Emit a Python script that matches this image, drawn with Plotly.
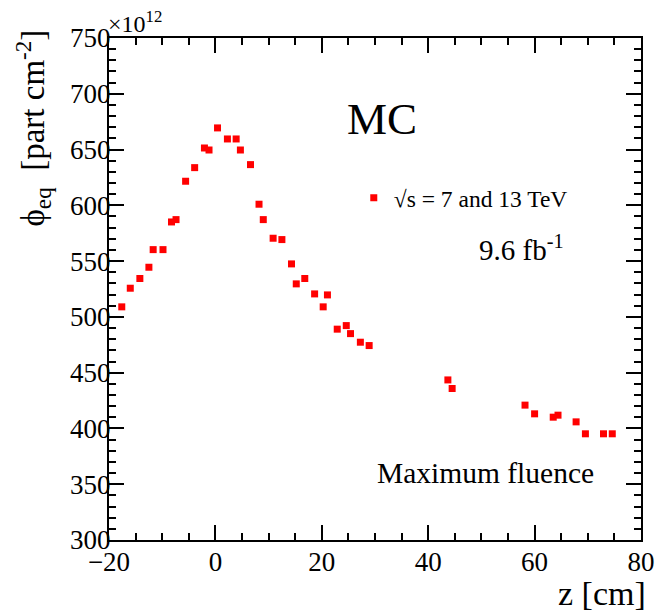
import plotly.graph_objects as go

# z position [cm]
z_cm = [-17.6, -16.0, -14.2, -12.5, -11.7, -9.85, -8.25, -7.4, -5.6, -3.9,
        -2.06, -1.2, 0.4, 2.26, 3.9, 4.7, 6.6, 8.2, 9.0, 10.85,
        12.5, 14.3, 15.2, 16.8, 18.65, 20.26, 21.06, 22.9, 24.6, 25.4,
        27.25, 28.9, 43.7, 44.5, 58.2, 60.0, 63.5, 64.4, 67.8, 69.55,
        72.95, 74.6]
# phi_eq [x 1e12 part cm^-2]
phi_eq = [509, 525.7, 534.4, 544.5, 560.3, 560.3, 585.1, 587.2, 621.6, 633.8,
          651.4, 649.6, 669.4, 659.5, 659.5, 649.6, 636.5, 601, 587.2, 570.5,
          569.3, 547.5, 529.6, 534.4, 520.6, 509, 519.7, 489, 492.2, 485,
          477.3, 474.3, 443.5, 435.8, 420.9, 413.1, 410.1, 411.9, 405.9, 395.2,
          395.2, 395.2]

series_name = "√s = 7 and 13 TeV"

FONT = "Liberation Serif"

fig = go.Figure()
fig.add_trace(go.Scatter(
    x=z_cm, y=phi_eq, mode="markers", name=series_name,
    marker=dict(symbol="square", size=7, color="#ff0000", line=dict(width=0)),
))

# page body has an 8px margin: draw the figure 8px smaller and offset
OFF = 8
W, H = 667 - OFF, 612 - OFF
L, T = 109 - OFF, 38 - OFF
R = W - (648 - OFF)
B = H - (540 - OFF)
pw, ph = W - L - R, H - T - B

def px(x):
    return (x - OFF - L) / pw

def py(y):
    return (H - B - (y - OFF)) / ph

axis_common = dict(
    showgrid=False, zeroline=False, showline=True, linecolor="black", linewidth=2,
    mirror="ticks", ticks="inside", tickcolor="black", tickwidth=2, ticklen=15,
    tickfont=dict(family=FONT, size=27, color="black"),
)

fig.update_xaxes(range=[-20, 80], dtick=20, tick0=-20, ticklabelstandoff=-3,
                 minor=dict(ticks="inside", dtick=5, ticklen=7, tickwidth=2, tickcolor="black"),
                 **axis_common)
fig.update_yaxes(range=[300, 750], dtick=50, tick0=300, ticklabelstandoff=-9,
                 minor=dict(ticks="inside", dtick=10, ticklen=7, tickwidth=2, tickcolor="black"),
                 **axis_common)

annotations = [
    dict(text="MC", x=px(386), y=py(119), xanchor="center", yanchor="middle",
         font=dict(family=FONT, size=45, color="black")),
    dict(text="9.6 fb<sup>-1</sup>", x=px(482), y=py(248), xanchor="left", yanchor="middle",
         font=dict(family=FONT, size=29, color="black")),
    dict(text="Maximum fluence", x=px(490), y=py(473), xanchor="center", yanchor="middle",
         font=dict(family=FONT, size=29.5, color="black")),
    dict(text="×10<sup>12</sup>", x=px(106), y=py(22), xanchor="left", yanchor="middle",
         font=dict(family=FONT, size=24, color="black")),
    dict(text="ϕ<sub>eq</sub>  [part cm<sup>-2</sup>]", x=px(32), y=py(28), xanchor="center",
         yanchor="top", textangle=-90,
         font=dict(family=FONT, size=33, color="black")),
    dict(text="z [cm]", x=px(655), y=py(593), xanchor="right", yanchor="middle",
         font=dict(family=FONT, size=34, color="black")),
]
for a in annotations:
    a.update(xref="paper", yref="paper", showarrow=False)

fig.update_layout(
    width=W, height=H,
    margin=dict(l=L, r=R, t=T, b=B, pad=0),
    paper_bgcolor="white", plot_bgcolor="white",
    showlegend=True,
    legend=dict(x=px(357), y=py(198), xanchor="left", yanchor="middle",
                bgcolor="rgba(0,0,0,0)", borderwidth=0,
                font=dict(family=FONT, size=23.5, color="black")),
    annotations=annotations,
)

fig.write_html("out.html")
